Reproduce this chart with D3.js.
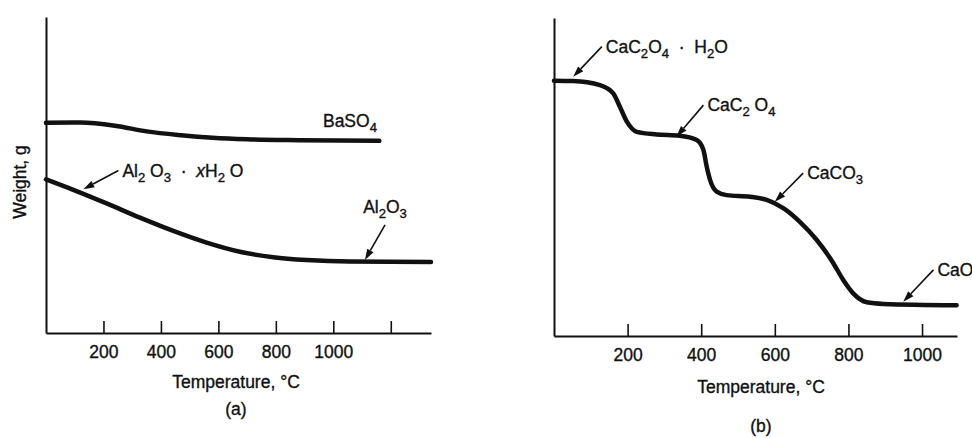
<!DOCTYPE html>
<meta charset="utf-8">
<head>
  <title>Thermogravimetric curves</title>
</head>

<style>
body {
  margin: 0;
  background: #fff;
}
svg text {
  font-family: "Liberation Sans", Arial, Helvetica, sans-serif;
  fill: #111;
  stroke: #111;
  stroke-width: 0.35px;
}
</style>

<body>
  <div id="content">
    <svg width="972" height="438"></svg>
  </div>

  <script src="https://cdnjs.cloudflare.com/ajax/libs/d3/7.8.5/d3.min.js"></script>

  <script>
// Panel (a): temperature in deg C, weight in relative units (0-100 = axis height)
var baso4Temp = [0, 120, 240, 350, 470, 580, 700, 880, 1160];
var baso4Weight = [66.5, 66.6, 65.6, 63.8, 62.6, 61.8, 61.3, 61.0, 60.8];
var aloxTemp = [0, 95, 211, 327, 443, 559, 675, 791, 907, 1058, 1340];
var aloxWeight = [48.6, 45.3, 41.0, 36.5, 32.3, 28.6, 25.7, 24.0, 23.1, 22.6, 22.5];

// Panel (b): calcium oxalate decomposition
var caTemp = [0, 52, 125, 161, 179, 198, 225, 279, 342, 388, 406, 415, 424, 442, 469,
  533, 578, 623, 668, 714, 759, 786, 813, 850, 895, 1094];
var caWeight = [80.3, 80.2, 78.9, 76.3, 72.1, 67.4, 64.2, 63.4, 63.0, 61.6, 58.5, 53.2, 49.1, 45.4, 44.3,
  43.8, 42.8, 40.2, 35.9, 30.2, 22.9, 17.6, 13.4, 10.6, 10.1, 9.7];

// Ticks
var ticksA = [200, 400, 600, 800, 1000, 1200];
var tickLabelsA = ['200', '400', '600', '800', '1000', ''];
var ticksB = [200, 400, 600, 800, 1000];
var tickLabelsB = ['200', '400', '600', '800', '1000'];

// Annotations, {sub} = subscript, [it] = italic; head/tail in data units
var notesA = [
  {text: 'Al{2} O{3}  \u00b7  [x]H{2} O', head: [130, 45.5], tail: [252, 51.4], side: 'right'},
  {text: 'Al{2}O{3}', head: [1110, 23.1], tail: [1180, 34.2], side: 'above'},
  {text: 'BaSO{4}', head: null, tail: [1058, 65.3], side: 'center'}
];
var notesB = [
  {text: 'CaC{2}O{4}  \u00b7  H{2}O', head: [52, 81.5], tail: [130, 91.0], side: 'right'},
  {text: 'CaC{2} O{4}', head: [333, 62.7], tail: [406, 72.6], side: 'right'},
  {text: 'CaCO{3}', head: [600, 42.2], tail: [677, 51.2], side: 'right'},
  {text: 'CaO', head: [949, 10.8], tail: [1031, 20.8], side: 'right'}
];

var svg = d3.select('#content svg');
var fs = 17.5;

var panels = [
  {x: [46, 431], y: [333, 17], tmax: 1340, ticks: ticksA, labels: tickLabelsA,
    series: [[baso4Temp, baso4Weight], [aloxTemp, aloxWeight]], notes: notesA,
    titleX: 236, titleY: 388, tag: '(a)', tagY: 415},
  {x: [554, 957], y: [336, 18], tmax: 1095, ticks: ticksB, labels: tickLabelsB,
    series: [[caTemp, caWeight]], notes: notesB,
    titleX: 761, titleY: 393, tag: '(b)', tagY: 432}
];

function richText(sel, str, size) {
  var re = /\{([^}]*)\}|\[([^\]]*)\]|([^{\[]+)/g, m, low = false;
  while ((m = re.exec(str))) {
    var t = sel.append('tspan');
    if (m[1] != null) {
      t.text(m[1]).attr('font-size', size * 0.75).attr('dy', low ? 0 : 5);
      low = true;
    } else {
      t.text(m[2] != null ? m[2] : m[3]).attr('dy', low ? -5 : 0);
      if (m[2] != null) t.attr('font-style', 'italic');
      low = false;
    }
  }
}

panels.forEach(function(p) {
  var x = d3.scaleLinear().domain([0, p.tmax]).range(p.x);
  var y = d3.scaleLinear().domain([0, 100]).range(p.y);
  var g = svg.append('g');

  // axes
  var xa = g.append('g')
    .attr('transform', 'translate(0,' + p.y[0] + ')')
    .call(d3.axisBottom(x)
      .tickValues(p.ticks)
      .tickFormat(function(d, i) { return p.labels[i]; })
      .tickSizeInner(-12)
      .tickSizeOuter(0)
      .tickPadding(13));
  var ya = g.append('g')
    .attr('transform', 'translate(' + p.x[0] + ',0)')
    .call(d3.axisLeft(y).tickValues([]).tickSizeOuter(0));
  [xa, ya].forEach(function(a) {
    a.attr('font-size', fs);
    a.select('.domain').attr('stroke', '#111').attr('stroke-width', 2);
    a.selectAll('.tick line').attr('stroke', '#111').attr('stroke-width', 1.6);
  });

  // curves
  var line = d3.line()
    .x(function(d) { return x(d[0]); })
    .y(function(d) { return y(d[1]); })
    .curve(d3.curveMonotoneX);
  p.series.forEach(function(s) {
    g.append('path')
      .attr('d', line(d3.zip(s[0], s[1])))
      .attr('fill', 'none')
      .attr('stroke', '#111')
      .attr('stroke-width', 4.5)
      .attr('stroke-linecap', 'round');
  });

  // arrows + labels
  p.notes.forEach(function(n) {
    var tx = x(n.tail[0]), ty = y(n.tail[1]);
    if (n.head) {
      var hx = x(n.head[0]), hy = y(n.head[1]);
      var ang = Math.atan2(hy - ty, hx - tx), len = 11, w = 3.6;
      var bx = hx - len * Math.cos(ang), by = hy - len * Math.sin(ang);
      g.append('line')
        .attr('x1', tx).attr('y1', ty).attr('x2', bx).attr('y2', by)
        .attr('stroke', '#111').attr('stroke-width', 1.6);
      g.append('path')
        .attr('d', 'M' + hx + ',' + hy +
          'L' + (bx + w * Math.sin(ang)) + ',' + (by - w * Math.cos(ang)) +
          'L' + (bx - w * Math.sin(ang)) + ',' + (by + w * Math.cos(ang)) + 'Z')
        .attr('fill', '#111');
    }
    var t = g.append('text')
      .attr('font-size', fs)
      .style('white-space', 'pre');
    if (n.side == 'right') t.attr('x', tx + 4).attr('y', ty + 6);
    else if (n.side == 'above') t.attr('x', tx).attr('y', ty - 12).attr('text-anchor', 'middle');
    else t.attr('x', tx).attr('y', ty).attr('text-anchor', 'middle');
    richText(t, n.text, fs);
  });

  g.append('text')
    .attr('x', p.titleX).attr('y', p.titleY)
    .attr('text-anchor', 'middle')
    .attr('font-size', fs)
    .text('Temperature, \u00b0C');

  g.append('text')
    .attr('x', p.titleX).attr('y', p.tagY)
    .attr('text-anchor', 'middle')
    .attr('font-size', fs)
    .text(p.tag);
});

svg.append('text')
  .attr('transform', 'translate(20,182) rotate(-90)')
  .attr('text-anchor', 'middle')
  .attr('dy', '0.35em')
  .attr('font-size', fs)
  .text('Weight, g');
  </script>
</body>
</html>
